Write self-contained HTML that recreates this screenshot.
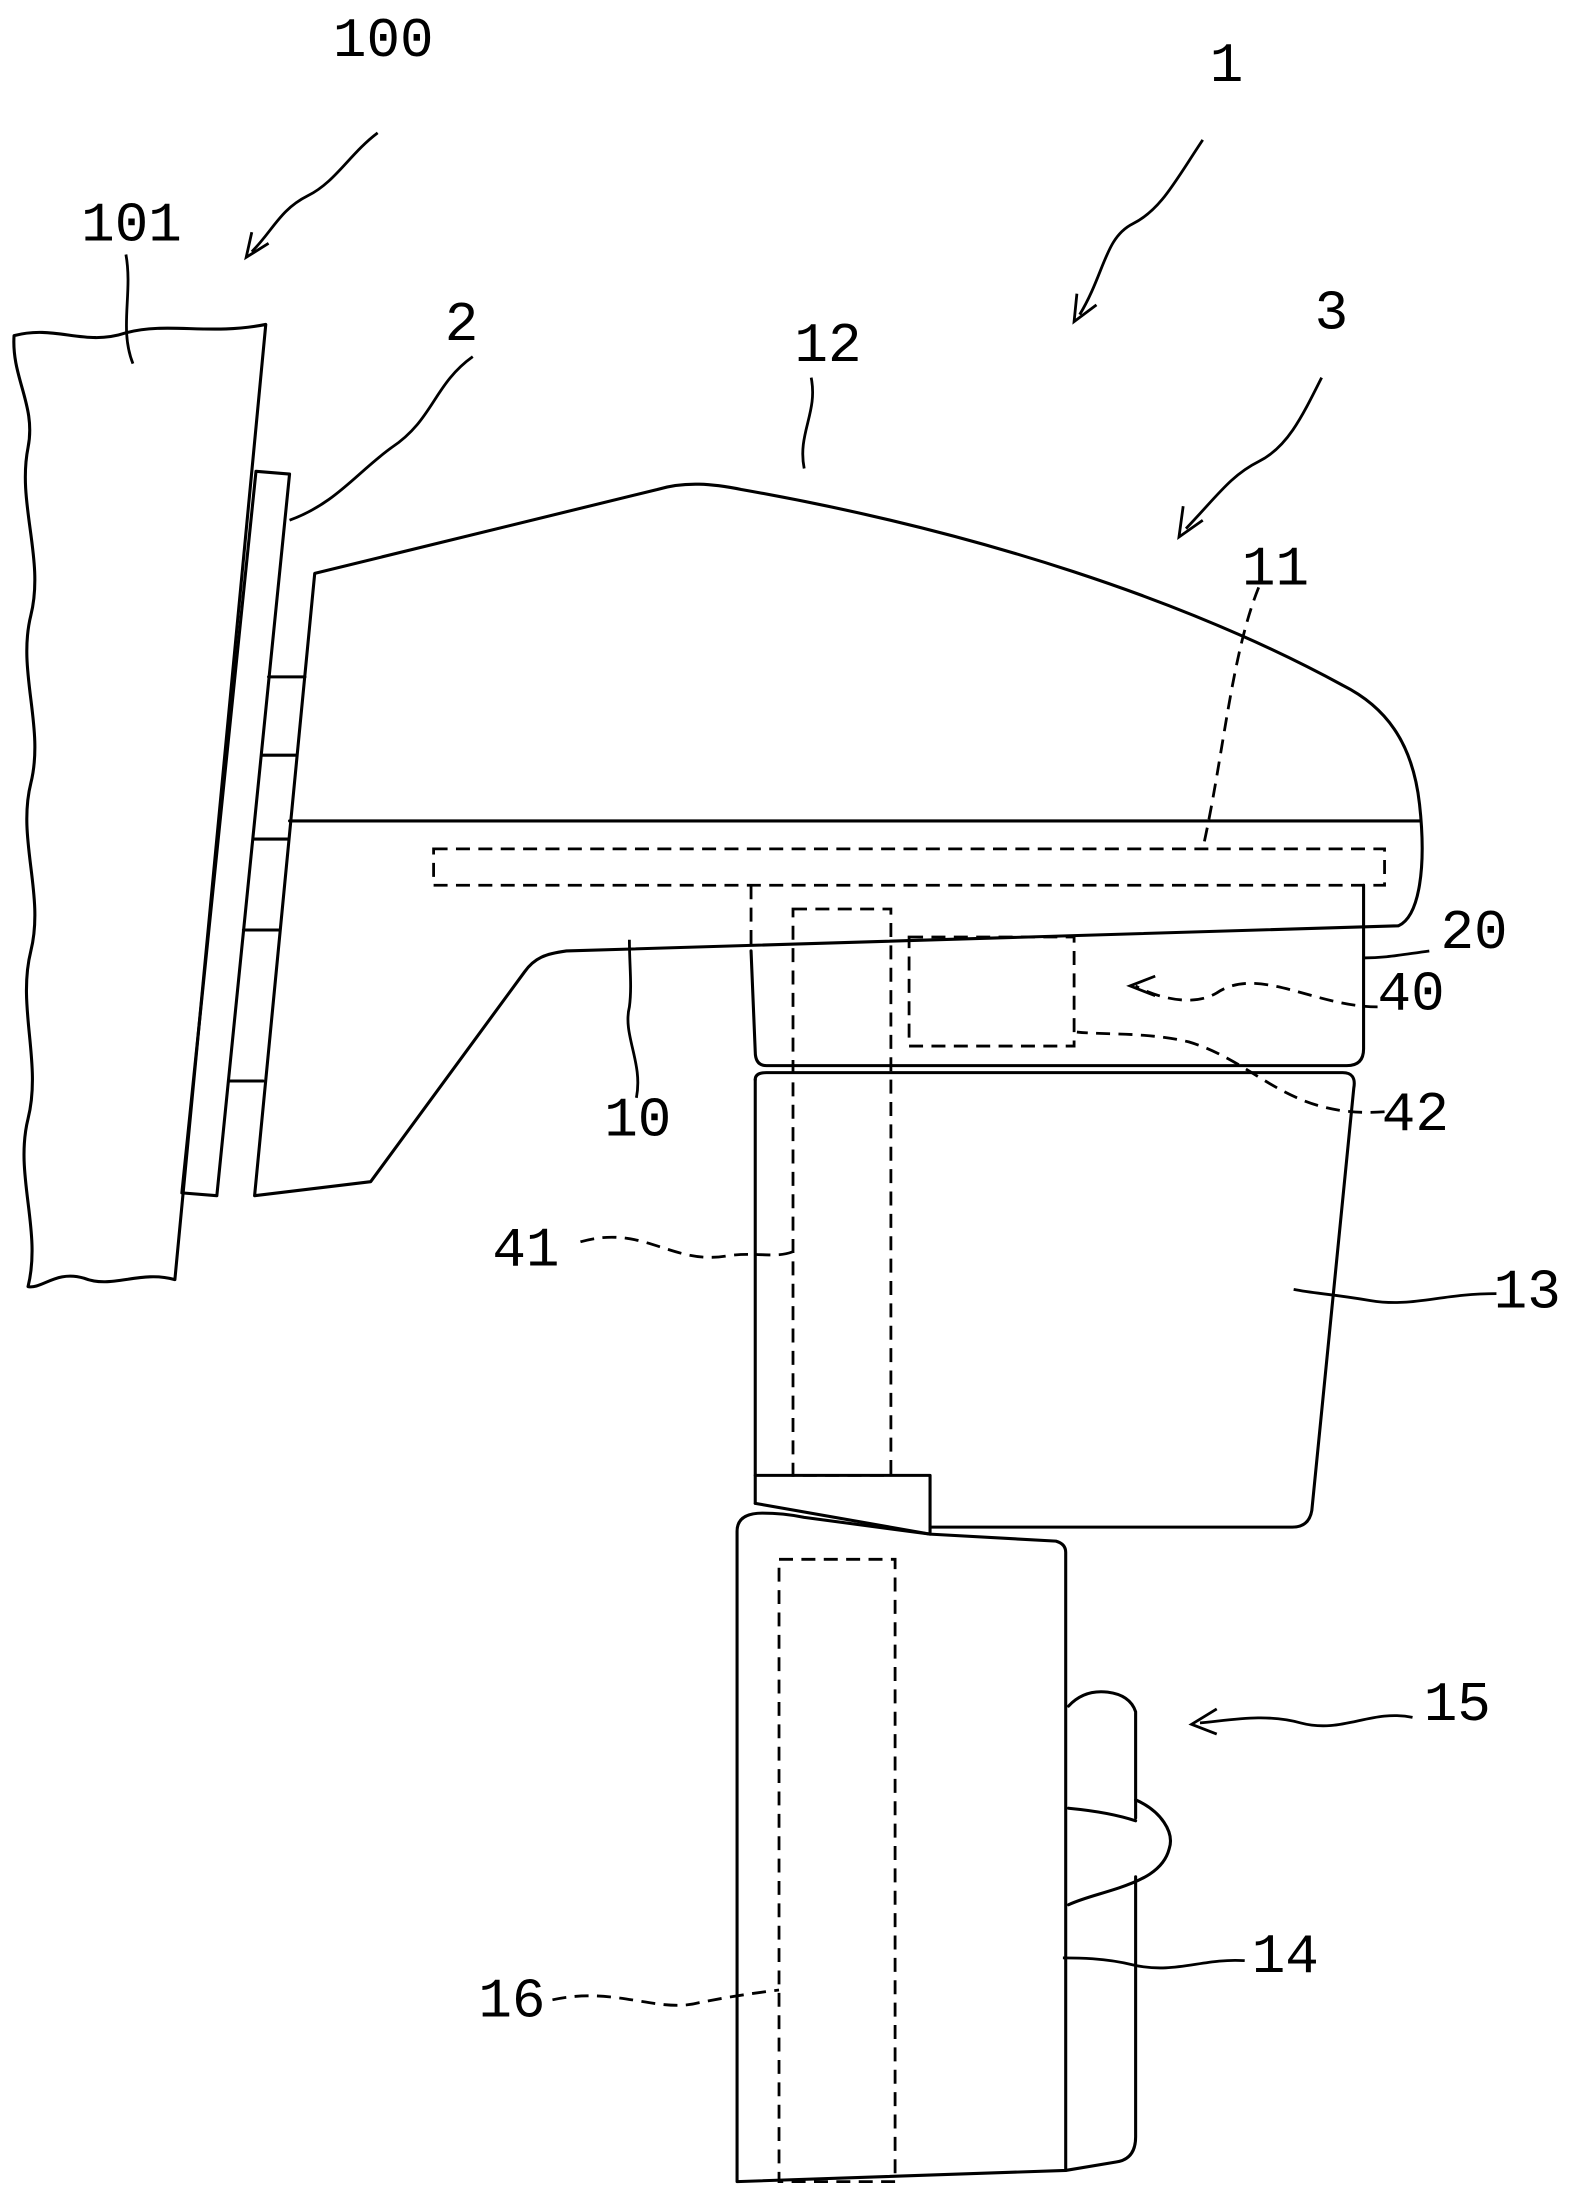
<!DOCTYPE html>
<html><head><meta charset="utf-8"><style>html,body{margin:0;padding:0;background:#fff}svg{display:block}</style></head>
<body>
<svg width="1593" height="2197" viewBox="0 0 1139 1571" xmlns="http://www.w3.org/2000/svg">
<g fill="none" stroke="#000" stroke-width="2.2" stroke-linejoin="round" stroke-linecap="round">
<!-- wall 101 -->
<path d="M10,240 C40,232 60,248 90,238 C120,230 150,240 190,232 L125,915 C100,908 80,922 60,914 C40,908 30,922 20,920 C30,880 10,840 20,800 C30,760 12,720 22,680 C32,640 12,600 22,560 C32,520 12,480 22,440 C32,400 12,360 20,320 C26,290 8,270 10,240 Z"/>
<!-- plate 2 -->
<path d="M183,337 L207,339 L155,855 L130,853 Z"/>
<path d="M192,484 L218,484 M187,540 L212,540 M181,600 L206,600 M174,665 L199,665 M164,773 L188,773"/>
<!-- body 12 -->
<path d="M225,410 L470,350 C490,344 510,346 530,350 C700,380 850,430 960,490 C990,505 1010,530 1015,575 C1020,620 1015,655 1000,662 L405,680 C390,682 382,685 375,695 L265,845 L182,855 L225,410 Z"/>
<path d="M207,587 L1015,587"/>
<!-- part 20 -->
<path d="M975,633 L975,750 Q975,762 963,762 L548,762 Q540,762 540,752 L537,680"/>
<!-- part 13 -->
<path d="M540,772 Q540,767 548,767 L960,767 Q970,767 968,778 L938,1080 Q936,1092 924,1092 L665,1092"/>
<path d="M540,772 L540,1075"/>
<path d="M540,1055 L665,1055 L665,1097 L540,1075"/>
<!-- part 14 -->
<path d="M527,1095 Q527,1082 545,1082 Q560,1082 575,1085 L665,1097 L755,1102 Q762,1104 762,1110 L762,1552 L527,1560 L527,1095 Z"/>
<path d="M762,1552 L798,1546 Q812,1544 812,1528 L812,1342"/>
<!-- knob 15 -->
<path d="M764,1220 Q775,1208 792,1210 Q808,1212 812,1224 L812,1300"/>
<path d="M764,1293 C785,1295 800,1298 812,1302"/>
<path d="M812,1287 C830,1295 840,1310 836,1322 C832,1338 815,1345 800,1350 C785,1355 775,1357 764,1362"/>
</g>
<!-- dashed -->
<g fill="none" stroke="#000" stroke-width="2" stroke-dasharray="10,6">
<rect x="310" y="607" width="680" height="26"/>
<path d="M537,633 L537,680"/>
<rect x="567" y="650" width="70" height="405"/>
<rect x="650" y="670" width="118" height="78"/>
<rect x="557" y="1115" width="83" height="445"/>
<path d="M900,420 C880,470 875,540 860,607"/>
<path d="M985,720 C940,720 900,690 870,710 C850,722 820,710 812,705"/>
<path d="M990,795 C920,800 900,760 850,745 C820,738 790,740 770,738"/>
<path d="M415,888 C460,875 480,905 520,898 C540,895 555,900 567,895"/>
<path d="M395,1430 C440,1420 470,1440 500,1432 C520,1428 540,1425 557,1423"/>
</g>
<!-- solid leaders -->
<g fill="none" stroke="#000" stroke-width="2">
<path d="M270,95 C250,110 240,130 220,140 C200,150 195,165 180,180"/>
<path d="M860,100 C840,130 830,150 810,160 C790,170 790,195 772,225"/>
<path d="M945,270 C930,300 920,320 900,330 C880,340 870,355 848,378"/>
<path d="M338,255 C310,275 310,300 280,320 C255,338 240,360 207,372"/>
<path d="M580,270 C585,295 570,310 575,335"/>
<path d="M90,182 C95,210 85,235 95,260"/>
<path d="M1022,680 C1000,683 990,685 975,685"/>
<path d="M455,785 C460,760 445,740 450,720 C452,705 450,690 450,672"/>
<path d="M1070,925 C1030,925 1010,935 980,930 C950,925 940,925 925,922"/>
<path d="M1010,1228 C980,1222 960,1240 930,1232 C905,1225 880,1230 858,1232"/>
<path d="M890,1402 C860,1400 840,1412 810,1405 C790,1400 770,1400 760,1400"/>
<!-- open arrowheads -->
<path d="M180,166 L176,184 L192,174"/>
<path d="M770,210 L768,230 L784,218"/>
<path d="M846,362 L843,384 L860,372"/>
<path d="M826,698 L808,705 L826,712"/>
<path d="M870,1222 L852,1233 L870,1240"/>
</g>
<g font-family="'Liberation Mono', monospace" font-size="40" fill="#000">
<text x="238" y="40">100</text>
<text x="58" y="172">101</text>
<text x="865" y="58">1</text>
<text x="318" y="243">2</text>
<text x="568" y="258">12</text>
<text x="940" y="235">3</text>
<text x="888" y="418">11</text>
<text x="1030" y="678">20</text>
<text x="985" y="722">40</text>
<text x="988" y="808">42</text>
<text x="432" y="812">10</text>
<text x="352" y="905">41</text>
<text x="1068" y="935">13</text>
<text x="1018" y="1230">15</text>
<text x="895" y="1410">14</text>
<text x="342" y="1442">16</text>
</g>
</svg>
</body></html>
